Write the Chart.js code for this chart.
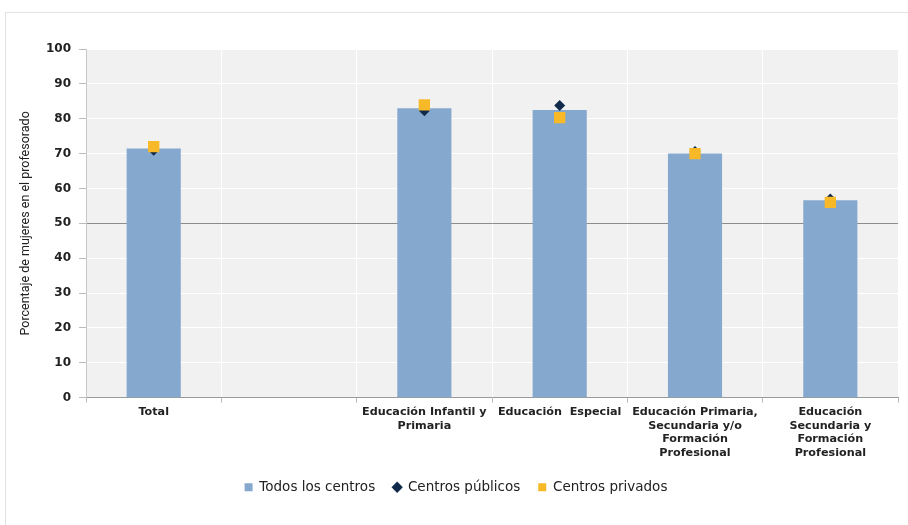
<!DOCTYPE html>
<html>
<head>
<meta charset="utf-8">
<script src="https://cdn.jsdelivr.net/npm/chart.js@4.4.0/dist/chart.umd.min.js"></script>
<style>
  html, body { margin: 0; padding: 0; background: #fff; }
  #wrap { position: absolute; left: 0; top: 0; width: 908px; height: 525px; }
  #frame { position: absolute; left: 5px; top: 12px; width: 910px; height: 520px; border: 1px solid #e2e2e2; box-sizing: border-box; }
</style>
</head>
<body>
<div id="wrap">
  <div id="frame"></div>
  <canvas id="chart" width="908" height="525"></canvas>
</div>
<script>
// Categorías (la segunda está vacía en el original)
const categorias = [
  'Total',
  '',
  ['Educación Infantil y', 'Primaria'],
  'Educación  Especial',
  ['Educación Primaria,', 'Secundaria y/o', 'Formación', 'Profesional'],
  ['Educación', 'Secundaria y', 'Formación', 'Profesional']
];

// Porcentaje de mujeres en el profesorado
const todosLosCentros = [71.5, null, 83.0, 82.5, 70.0, 56.6];
const centrosPublicos = [71.0, null, 82.3, 83.8, 70.6, 57.0];
const centrosPrivados = [72.0, null, 84.0, 80.3, 70.0, 56.0];

const ticksY = [0, 10, 20, 30, 40, 50, 60, 70, 80, 90, 100];

// fondo gris del área de trazado
const fondoArea = {
  id: 'fondoArea',
  beforeDraw(chart) {
    const { ctx, chartArea: a } = chart;
    ctx.save();
    ctx.fillStyle = '#f1f1f1';
    ctx.fillRect(a.left, a.top, a.right - a.left, a.bottom - a.top);
    ctx.restore();
  }
};

const ctx = document.getElementById('chart').getContext('2d');
new Chart(ctx, {
  data: {
    labels: categorias,
    datasets: [
      {
        type: 'bar',
        label: 'Todos los centros',
        data: todosLosCentros,
        backgroundColor: '#85a8cf',
        categoryPercentage: 1,
        barPercentage: 0.4,
        pointStyle: 'rect',
        order: 3
      },
      {
        type: 'line',
        label: 'Centros públicos',
        data: centrosPublicos,
        showLine: false,
        pointStyle: 'rectRot',
        pointRadius: 5.5,
        backgroundColor: '#0f2a4a',
        borderColor: '#0f2a4a',
        borderWidth: 0,
        order: 2
      },
      {
        type: 'line',
        label: 'Centros privados',
        data: centrosPrivados,
        showLine: false,
        pointStyle: 'rect',
        pointRadius: 8,
        backgroundColor: '#f7b927',
        borderColor: '#f7b927',
        borderWidth: 0,
        order: 1
      }
    ]
  },
  options: {
    responsive: false,
    animation: false,
    layout: { padding: { left: 14, right: 10, top: 49, bottom: 21 } },
    plugins: {
      tooltip: { enabled: false },
      legend: {
        position: 'bottom',
        labels: {
          usePointStyle: true,
          boxWidth: 8,
          boxHeight: 8,
          padding: 18,
          color: '#222',
          font: { family: '"DejaVu Sans", sans-serif', size: 13.5 },
          sort: (a, b) => a.datasetIndex - b.datasetIndex
        }
      }
    },
    scales: {
      x: {
        offset: true,
        grid: {
          offset: true,
          color: '#ffffff',
          lineWidth: 1,
          tickLength: 5,
          tickColor: '#bbbbbb',
          drawTicks: true
        },
        border: { color: '#9a9a9a' },
        ticks: {
          autoSkip: false,
          maxRotation: 0,
          color: '#222',
          padding: 3,
          font: { family: '"DejaVu Sans", sans-serif', size: 11.2, weight: 'bold', lineHeight: 1.2 }
        }
      },
      y: {
        min: 0,
        max: 100,
        afterBuildTicks(scale) { scale.ticks = ticksY.map(v => ({ value: v })); },
        grid: {
          color: c => c.tick && c.tick.value === 50 ? '#8c8c8c' : '#ffffff',
          tickColor: '#bbbbbb',
          tickLength: 7,
          lineWidth: 1
        },
        border: { color: '#c8c8c8' },
        ticks: {
          color: '#222',
          padding: 8,
          font: { family: '"DejaVu Sans", sans-serif', size: 12, weight: 'bold' }
        },
        title: {
          display: true,
          text: 'Porcentaje de mujeres en el profesorado',
          color: '#222',
          padding: { bottom: 5 },
          font: { family: 'Roboto, sans-serif', size: 12.5 }
        }
      }
    }
  },
  plugins: [fondoArea]
});
</script>
</body>
</html>
